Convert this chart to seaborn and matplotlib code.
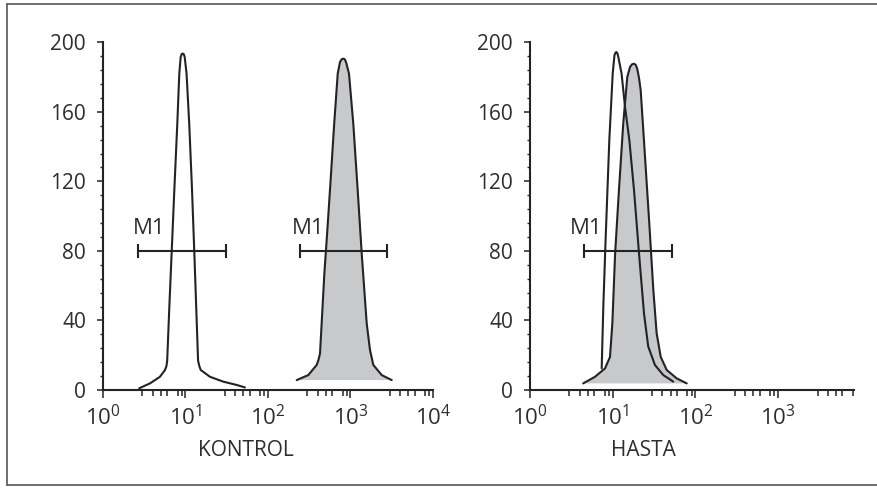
import matplotlib
matplotlib.use("Agg")
import matplotlib.pyplot as plt
import seaborn as sns
import pandas as pd
import numpy as np
from matplotlib.ticker import FixedLocator, NullFormatter
from matplotlib.lines import Line2D

# ---------------- data ----------------
kontrol_open_x = [2.75, 3.71, 4.9, 5.64, 5.88, 6.0, 6.37, 6.79, 7.32, 7.95, 8.41, 8.74, 9.0, 9.25,
                  9.5, 9.78, 10.3, 11.1, 12.0, 12.8, 13.7, 14.2, 14.7, 15.3, 19.8, 28.7, 41.7, 52.5]
kontrol_open_y = [1.0, 3.8, 7.6, 11.5, 13.8, 17, 47.9, 78.6, 115, 153, 182, 191.5, 193.3, 193.5,
                  193.3, 191.5, 182, 153, 115, 78.6, 38.3, 17, 13.8, 11.5, 7.6, 4.8, 2.9, 1.5]

kontrol_fill_x = [223, 308, 389, 410, 427, 447, 482, 514, 564, 634, 700, 746, 785, 819, 850, 882,
                  959, 1082, 1222, 1367, 1572, 1723, 1891, 2389, 3160]
kontrol_fill_y = [5.7, 8.6, 14.4, 17.5, 21, 38.3, 67, 86, 115, 153, 182, 188.7, 190.3, 190.6, 190.3,
                  188.7, 182, 153, 115, 78.6, 38.3, 23, 14.4, 8.6, 5.7]

hasta_fill_x = [4.4, 6.1, 8.07, 9.27, 9.9, 10.7, 11.9, 13.4, 15.0, 16.2, 17.1, 18.1, 19.0, 19.8,
                20.8, 21.8, 24.6, 27.7, 31.0, 34.0, 38.1, 45, 59.4, 78.5]
hasta_fill_y = [3.8, 7.6, 12.4, 19, 38.3, 78.6, 115, 153, 180, 185.8, 187.3, 187.7, 187.0, 184.8,
                179.5, 172.4, 134, 95.8, 57.5, 32.6, 19, 11.5, 6.7, 3.8]

hasta_open_x = [7.36, 7.7, 8.2, 9.1, 10.0, 10.5, 10.8, 11.1, 11.4, 11.7, 12.8, 14.1, 15.9, 18.1,
                20.8, 23.9, 26.9, 32.4, 40.9, 54]
hasta_open_y = [12.4, 47.9, 86, 143.7, 182, 192.5, 194.0, 194.4, 193.6, 191.5, 182, 162.8, 143.7,
                115, 78.6, 44, 25, 14.4, 8.6, 4.8]

marker_label = "M1"
marker_y = 80
marker_label_y = 90
kontrol_markers = [(2.63, 30.7), (244, 2793)]
kontrol_marker_label_x = [2.31, 194]
hasta_markers = [(4.54, 52.6)]
hasta_marker_label_x = [3.05]

y_ticks = [0, 40, 80, 120, 160, 200]
kontrol_xticks = [1, 10, 100, 1000, 10000]
kontrol_xticklabels = ["$10^{0}$", "$10^{1}$", "$10^{2}$", "$10^{3}$", "$10^{4}$"]
hasta_xticks = [1, 10, 100, 1000]
hasta_xticklabels = ["$10^{0}$", "$10^{1}$", "$10^{2}$", "$10^{3}$"]
panel_titles = ["KONTROL", "HASTA"]

# ---------------- style ----------------
sns.set_theme(style="white")
plt.rcParams["font.family"] = ["Open Sans", "DejaVu Sans"]
plt.rcParams["mathtext.default"] = "regular"

INK = "#232323"
TXT = "#2e2e2e"
FILL = "#c8c9cb"
FS = 15

fig = plt.figure(figsize=(8.78, 4.88), dpi=100)
W, H = 878, 488

def make_ax(x0, x1, y0=390, y1=42.3):
    return fig.add_axes([x0 / W, (H - y0) / H, (x1 - x0) / W, (y0 - y1) / H])

axL = make_ax(103, 433)
axR = make_ax(530, 854)

def style_axes(ax, xmax, xticks, xticklabels, label, label_x):
    ax.set_xscale("log")
    ax.set_xlim(1, xmax)
    ax.set_ylim(0, 200)
    for s in ("top", "right"):
        ax.spines[s].set_visible(False)
    for s in ("left", "bottom"):
        ax.spines[s].set_color(INK)
        ax.spines[s].set_linewidth(1.5)
    ax.set_xticks(xticks)
    ax.set_xticklabels(xticklabels)
    minors = []
    for dec in [1, 10, 100, 1000]:
        for m in [3, 4, 5, 6, 8, 9]:
            v = dec * m
            if v < xmax:
                minors.append(v)
    ax.xaxis.set_minor_locator(FixedLocator(minors))
    ax.xaxis.set_minor_formatter(NullFormatter())
    ax.set_yticks(y_ticks)
    ax.yaxis.set_minor_locator(FixedLocator([v for v in range(0, 201, 8) if v % 40]))
    ax.tick_params(axis="x", which="major", direction="out", length=5.8, width=1.1,
                   color=INK, labelsize=FS + 1, labelcolor=TXT, pad=5, bottom=True)
    ax.tick_params(axis="x", which="minor", direction="out", length=4.3, width=1.1,
                   color=INK, bottom=True)
    ax.tick_params(axis="y", which="major", direction="out", length=4.3, width=1.1,
                   color=INK, labelsize=FS, labelcolor=TXT, pad=8, left=True)
    ax.tick_params(axis="y", which="minor", direction="out", length=2.2, width=1.0,
                   color=INK, left=True)
    ax.set_xlabel(label, fontsize=FS, color=TXT)
    ax.xaxis.set_label_coords(label_x, -0.145)
    ax.set_ylabel("")
    ax.grid(False)
    ax.patch.set_alpha(0)

def draw_curve(ax, xs, ys, filled):
    if filled:
        ax.fill(xs, ys, color=FILL, lw=0, zorder=1)
    df = pd.DataFrame({"x": xs, "y": ys})
    sns.lineplot(data=df, x="x", y="y", ax=ax, sort=False, estimator=None,
                 color=INK, lw=1.5, zorder=3)

def draw_marker(ax, lo, hi, lx):
    ax.hlines(marker_y, lo, hi, color=INK, lw=1.5, zorder=4)
    ax.vlines([lo, hi], marker_y - 4.2, marker_y + 4.2, color=INK, lw=1.5, zorder=4)
    ax.text(lx, marker_label_y, marker_label, fontsize=FS + 1, color=TXT,
            ha="left", va="baseline", zorder=5)

# left panel
draw_curve(axL, kontrol_open_x, kontrol_open_y, False)
draw_curve(axL, kontrol_fill_x, kontrol_fill_y, True)
for (lo, hi), lx in zip(kontrol_markers, kontrol_marker_label_x):
    draw_marker(axL, lo, hi, lx)
style_axes(axL, 10000, kontrol_xticks, kontrol_xticklabels, panel_titles[0], 0.433)

# right panel
draw_curve(axR, hasta_fill_x, hasta_fill_y, True)
draw_curve(axR, hasta_open_x, hasta_open_y, False)
for (lo, hi), lx in zip(hasta_markers, hasta_marker_label_x):
    draw_marker(axR, lo, hi, lx)
style_axes(axR, 10 ** (324 / 82.7), hasta_xticks, hasta_xticklabels, panel_titles[1], 0.349)

# figure border (open on the right, as in the reference)
bc = "#555555"
lx = 7.5 / W
ty = (H - 3.5) / H
by = (H - 484.5) / H
fig.add_artist(Line2D([lx, lx], [by, ty], color=bc, lw=1.2, transform=fig.transFigure))
fig.add_artist(Line2D([lx, 1.0], [ty, ty], color=bc, lw=1.2, transform=fig.transFigure))
fig.add_artist(Line2D([lx, 1.0], [by, by], color=bc, lw=1.2, transform=fig.transFigure))

fig.savefig("out.png", dpi=100)
